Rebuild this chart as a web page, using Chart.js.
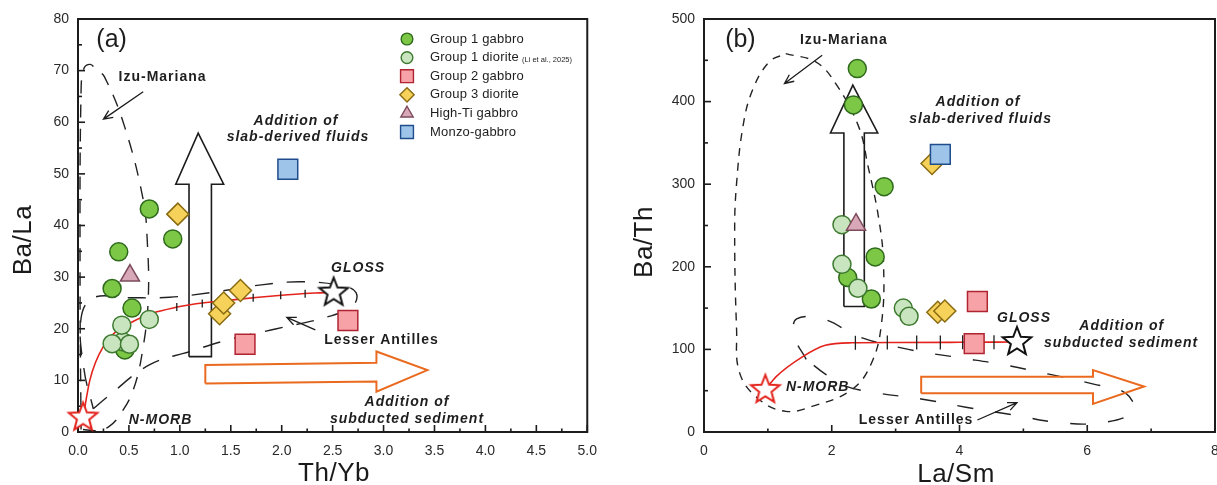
<!DOCTYPE html>
<html>
<head>
<meta charset="utf-8">
<script src="https://cdn.jsdelivr.net/npm/chart.js@4.4.1/dist/chart.umd.min.js"></script>
<style>
  html, body { margin: 0; padding: 0; background: #fff; overflow: hidden; }
  #boxA { position: absolute; left: 0; top: 0; }
  #boxB { position: absolute; left: 608px; top: 0; }
</style>
</head>
<body>
<div id="boxA"><canvas id="chartA" width="608" height="485"></canvas></div>
<div id="boxB"><canvas id="chartB" width="624" height="485"></canvas></div>
<script>
// ---- (a) Th/Yb vs Ba/La ----
const thYb_g1Gabbro = [0.70, 0.93, 0.40, 0.335, 0.53, 0.46];
const baLa_g1Gabbro = [43.2, 37.4, 34.9, 27.8, 24.0, 15.9];
const thYb_g1Diorite = [0.44, 0.70, 0.43, 0.335, 0.505];
const baLa_g1Diorite = [17.5, 21.8, 20.7, 17.1, 17.0];
const thYb_g2Gabbro = [1.64, 2.65];
const baLa_g2Gabbro = [17.0, 21.6];
const thYb_g3Diorite = [0.98, 1.39, 1.43, 1.595];
const baLa_g3Diorite = [42.2, 22.9, 25.0, 27.4];
const thYb_highTi = [0.51];
const baLa_highTi = [30.3];
const thYb_monzo = [2.06];
const baLa_monzo = [50.9];
const thYb_nmorb = [0.05];
const baLa_nmorb = [2.8];
const thYb_gloss = [2.51];
const baLa_gloss = [27.0];
// N-MORB - GLOSS mixing line and its increments
const thYb_mix = [0.05, 0.117, 0.247, 0.54, 1.0, 1.52, 2.0, 2.49];
const baLa_mix = [2.8, 10.1, 16.5, 21.4, 24.3, 25.6, 26.5, 27.1];
const thYb_mixTick = [0.97, 1.22, 1.72, 1.99, 2.23];
const baLa_mixTick = [24.2, 24.9, 26.0, 26.5, 26.8];
// fields and arrows
const thYb_izu = [0.03, 0.02, 0.03, 0.06, 0.12, 0.18, 0.26, 0.46, 0.64, 0.68, 0.69, 0.64, 0.54, 0.40, 0.30, 0.20, 0.03];
const baLa_izu = [0.5, 30, 66, 70.5, 71.2, 70.2, 68.8, 59, 45, 37, 26, 16.5, 8, 3, 1, 0.3, 0.5];
const thYb_antilles = [0.15, 0.30, 0.70, 1.10, 1.50, 1.95, 2.45, 2.70, 2.73, 2.60, 2.20, 1.80, 1.30, 0.90, 0.50, 0.15, 0.03, 0.06, 0.15];
const baLa_antilles = [4.5, 7.0, 13.0, 15.6, 18.0, 20.0, 22.3, 24.5, 27.0, 28.3, 29.1, 28.5, 27.0, 26.1, 26.0, 26.0, 22.0, 12.0, 4.5];
const thYb_fluidArrow = [1.09, 1.31, 1.31, 1.43, 1.18, 0.96, 1.09, 1.09];
const baLa_fluidArrow = [14.6, 14.6, 48.0, 48.0, 57.9, 48.0, 48.0, 14.6];
const thYb_sedArrow = [1.25, 2.93, 2.93, 3.43, 2.93, 2.93, 1.25, 1.25];
const baLa_sedArrow = [9.4, 9.8, 7.8, 12.0, 15.6, 13.4, 13.0, 9.4];

// ---- (b) La/Sm vs Ba/Th ----
const laSm_g1Gabbro = [2.40, 2.34, 2.82, 2.68, 2.25, 2.62];
const baTh_g1Gabbro = [440, 396, 297, 212, 187, 161];
const laSm_g1Diorite = [2.16, 2.16, 2.41, 3.12, 3.21];
const baTh_g1Diorite = [251, 203, 174, 150, 140];
const laSm_g2Gabbro = [4.28, 4.23];
const baTh_g2Gabbro = [158, 107];
const laSm_g3Diorite = [3.57, 3.66, 3.77];
const baTh_g3Diorite = [325, 145, 146.5];
const laSm_highTi = [2.38];
const baTh_highTi = [251];
const laSm_monzo = [3.70];
const baTh_monzo = [336];
const laSm_nmorb = [0.96];
const baTh_nmorb = [51];
const laSm_gloss = [4.90];
const baTh_gloss = [109];
const laSm_mix = [0.96, 1.13, 1.54, 1.90, 2.31, 3.0, 4.0, 4.9];
const baTh_mix = [51, 67, 91, 105, 108, 108.3, 108.6, 109];
const laSm_mixTick = [2.37, 2.87, 3.33, 3.70, 4.05, 4.54];
const baTh_mixTick = [108, 108.3, 108.4, 108.5, 108.6, 108.8];
const laSm_izu = [1.28, 1.75, 2.06, 2.42, 2.57, 2.73, 2.81, 2.78, 2.62, 2.31, 1.69, 1.28, 0.87, 0.56, 0.51, 0.48, 0.51, 0.61, 0.76, 1.02, 1.28];
const baTh_izu = [458, 448, 422, 370, 321, 261, 204, 132, 83, 51, 31, 25, 39, 71, 124, 245, 301, 370, 414, 448, 458];
const laSm_antilles = [1.60, 1.42, 1.45, 1.90, 2.40, 3.20, 4.00, 4.65, 5.40, 6.10, 6.60, 6.72, 6.20, 5.50, 4.90, 4.10, 3.40, 2.65, 2.20, 1.90, 1.60];
const baTh_antilles = [88, 115, 137, 136, 116, 100, 90, 82, 70, 58, 47, 25, 11, 12, 20, 30, 40, 48, 56, 70, 88];
const laSm_fluidArrow = [2.19, 2.51, 2.51, 2.72, 2.33, 1.98, 2.19, 2.19];
const baTh_fluidArrow = [152, 152, 362, 362, 420, 362, 362, 152];
const laSm_sedArrow = [3.40, 6.09, 6.09, 6.89, 6.09, 6.09, 3.40, 3.40];
const baTh_sedArrow = [47, 47, 34, 55, 75, 67, 67, 47];

const groupNames = ["Group 1 gabbro", "Group 1 diorite", "Group 2 gabbro", "Group 3 diorite", "High-Ti gabbro", "Monzo-gabbro"];

const FONT = "'Liberation Sans', Arial, sans-serif";
const STYLE = {
  g1Gabbro: { shape: "circle", r: 9, fill: "#7cc846", stroke: "#2f6a1c" },
  g1Diorite: { shape: "circle", r: 9, fill: "#c9e5bf", stroke: "#3e7a30" },
  g2Gabbro: { shape: "rect", r: 14, fill: "#f7a2a7", stroke: "#b02431" },
  g3Diorite: { shape: "rectRot", r: 11, fill: "#f6d25a", stroke: "#8a6b12" },
  highTi: { shape: "triangle", r: 11, fill: "#d9a8b8", stroke: "#7b4a5b" },
  monzo: { shape: "rect", r: 14, fill: "#9fc4e9", stroke: "#1f4d8c" },
};

function pts(xs, ys) {
  return xs.map((x, i) => ({ x, y: ys[i] }));
}

// five-pointed star used as a point style
function starImage(R, fill, stroke, lw) {
  const c = document.createElement("canvas");
  const s = Math.ceil(2 * R + 2 * lw + 2);
  c.width = s;
  c.height = s;
  const g = c.getContext("2d");
  g.translate(s / 2, s / 2);
  g.beginPath();
  for (let i = 0; i < 10; i++) {
    const r = i % 2 ? R * 0.43 : R;
    const a = -Math.PI / 2 + (i * Math.PI) / 5;
    g.lineTo(r * Math.cos(a), r * Math.sin(a));
  }
  g.closePath();
  g.fillStyle = fill;
  g.fill();
  g.lineWidth = lw;
  g.strokeStyle = stroke;
  g.stroke();
  return c;
}

function markers(label, xs, ys, st, order) {
  return {
    label, data: pts(xs, ys), showLine: false, order,
    pointStyle: st.shape, pointRadius: st.r,
    pointBackgroundColor: st.fill, pointBorderColor: st.stroke, pointBorderWidth: 1.5,
  };
}

function star(label, xs, ys, img) {
  return { label, data: pts(xs, ys), showLine: false, order: 0, clip: false, pointStyle: img, pointRadius: 16 };
}

function outline(label, xs, ys, color, dash, tension, order, width) {
  return {
    label, data: pts(xs, ys), showLine: true, fill: false, order,
    borderColor: color, borderWidth: width || 1.4, borderDash: dash, tension,
    pointRadius: 0,
  };
}

function mixLine(xs, ys) {
  return {
    label: "mixing", data: pts(xs, ys), showLine: true, fill: false, order: 5,
    borderColor: "#e3231c", borderWidth: 1.6, cubicInterpolationMode: "monotone", pointRadius: 0,
  };
}

function mixTicks(xs, ys, r) {
  return {
    label: "increments", data: pts(xs, ys), showLine: false, order: 4,
    pointStyle: "line", pointRotation: 90, pointRadius: r,
    pointBorderColor: "#1f1f1f", pointBorderWidth: 1.3,
  };
}

// draws a legend marker like the chart's own points
function legendMarker(ctx, st, x, y, scale) {
  const r = st.r * scale;
  ctx.beginPath();
  if (st.shape === "circle") {
    ctx.arc(x, y, r, 0, Math.PI * 2);
  } else if (st.shape === "rect") {
    const h = r * Math.SQRT1_2;
    ctx.rect(x - h, y - h, 2 * h, 2 * h);
  } else if (st.shape === "rectRot") {
    ctx.moveTo(x, y - r); ctx.lineTo(x + r, y); ctx.lineTo(x, y + r); ctx.lineTo(x - r, y); ctx.closePath();
  } else if (st.shape === "triangle") {
    ctx.moveTo(x, y - r);
    ctx.lineTo(x + r * Math.sin(Math.PI / 3), y + r * 0.5);
    ctx.lineTo(x - r * Math.sin(Math.PI / 3), y + r * 0.5);
    ctx.closePath();
  }
  ctx.fillStyle = st.fill;
  ctx.fill();
  ctx.lineWidth = 1.4;
  ctx.strokeStyle = st.stroke;
  ctx.stroke();
}

const decor = {
  id: "decor",
  beforeDatasetsDraw(chart, args, o) {
    const ctx = chart.ctx, a = chart.chartArea;
    const xs = chart.scales.x, ys = chart.scales.y;
    ctx.save();
    ctx.strokeStyle = "#1c1c1c";
    ctx.lineWidth = 1.6;
    // inward tick marks
    xs.ticks.forEach((t) => {
      const x = xs.getPixelForValue(t.value), len = t.label !== "" ? 7 : 3.5;
      ctx.beginPath(); ctx.moveTo(x, a.bottom); ctx.lineTo(x, a.bottom - len); ctx.stroke();
    });
    ys.ticks.forEach((t) => {
      const y = ys.getPixelForValue(t.value), len = t.label !== "" ? 7 : 4;
      ctx.beginPath(); ctx.moveTo(a.left, y); ctx.lineTo(a.left + len, y); ctx.stroke();
    });
    // plot frame
    ctx.lineWidth = 2;
    ctx.strokeRect(a.left, a.top, a.right - a.left, a.bottom - a.top);
    ctx.restore();
  },
  afterDatasetsDraw(chart, args, o) {
    const ctx = chart.ctx;
    const px = (v) => chart.scales.x.getPixelForValue(v);
    const py = (v) => chart.scales.y.getPixelForValue(v);
    ctx.save();
    ctx.strokeStyle = "#1c1c1c";
    ctx.lineWidth = 1.3;
    (o.pointers || []).forEach((p) => {
      const x1 = px(p.from[0]), y1 = py(p.from[1]), x2 = px(p.to[0]), y2 = py(p.to[1]);
      const ang = Math.atan2(y2 - y1, x2 - x1), h = 10;
      ctx.beginPath();
      ctx.moveTo(x1, y1); ctx.lineTo(x2, y2);
      ctx.moveTo(x2 - h * Math.cos(ang - 0.42), y2 - h * Math.sin(ang - 0.42));
      ctx.lineTo(x2, y2);
      ctx.lineTo(x2 - h * Math.cos(ang + 0.42), y2 - h * Math.sin(ang + 0.42));
      ctx.stroke();
    });
    ctx.fillStyle = "#1e1e1e";
    ctx.textAlign = "center";
    ctx.textBaseline = "middle";
    (o.notes || []).forEach((n) => {
      ctx.font = n.font;
      ctx.letterSpacing = n.ls || "0px";
      ctx.fillText(n.text, px(n.x), py(n.y));
    });
    ctx.restore();
  },
  afterDraw(chart, args, o) {
    const ctx = chart.ctx;
    ctx.save();
    ctx.fillStyle = "#1a1a1a";
    ctx.textAlign = "center";
    ctx.textBaseline = "middle";
    ctx.font = "26px " + FONT;
    ctx.letterSpacing = "0.5px";
    ctx.fillText(o.xTitle.text, o.xTitle.x, o.xTitle.y);
    ctx.translate(o.yTitle.x, o.yTitle.y);
    ctx.rotate(-Math.PI / 2);
    ctx.fillText(o.yTitle.text, 0, 0);
    ctx.restore();

    if (o.legend) {
      const L = o.legend;
      ctx.save();
      ctx.textAlign = "left";
      ctx.textBaseline = "middle";
      L.keys.forEach((k, i) => {
        const y = L.top + i * L.gap;
        legendMarker(ctx, STYLE[k], L.x, y, 0.65);
        ctx.fillStyle = "#1e1e1e";
        ctx.font = "13px " + FONT;
        ctx.letterSpacing = "0.2px";
        ctx.fillText(groupNames[i], L.x + 23, y);
        if (i === 1) {
          const w = ctx.measureText(groupNames[i]).width;
          ctx.font = "7.5px " + FONT;
          ctx.letterSpacing = "0px";
          ctx.fillText("(Li et al., 2025)", L.x + 23 + w + 3, y + 2);
        }
      });
      ctx.restore();
    }
  },
};

function baseOptions(c) {
  const tickFont = { family: FONT, size: 14 };
  return {
    responsive: false,
    animation: false,
    events: [],
    layout: { padding: c.pad },
    plugins: { legend: { display: false }, tooltip: { enabled: false }, decor: c.decor },
    scales: {
      x: {
        type: "linear", min: c.xMin, max: c.xMax,
        border: { display: false }, grid: { display: false, drawTicks: false },
        ticks: { stepSize: c.xStep, autoSkip: false, maxRotation: 0, padding: 11, font: tickFont, color: "#2a2a2a", callback: c.xLabel },
        afterFit: (s) => { s.height = c.xH; },
      },
      y: {
        type: "linear", min: c.yMin, max: c.yMax,
        border: { display: false }, grid: { display: false, drawTicks: false },
        ticks: { stepSize: c.yStep, autoSkip: false, padding: 9, font: tickFont, color: "#2a2a2a", callback: c.yLabel },
        afterFit: (s) => { s.width = c.yW; },
      },
    },
  };
}

const noteBold = "bold 14px " + FONT;
const noteItalic = "italic bold 14px " + FONT;

// panel (a)
new Chart(document.getElementById("chartA"), {
  type: "scatter",
  data: {
    datasets: [
      markers(groupNames[5], thYb_monzo, baLa_monzo, STYLE.monzo, 1),
      markers(groupNames[4], thYb_highTi, baLa_highTi, STYLE.highTi, 1),
      markers(groupNames[3], thYb_g3Diorite, baLa_g3Diorite, STYLE.g3Diorite, 1),
      markers(groupNames[2], thYb_g2Gabbro, baLa_g2Gabbro, STYLE.g2Gabbro, 1),
      markers(groupNames[1], thYb_g1Diorite, baLa_g1Diorite, STYLE.g1Diorite, 2),
      markers(groupNames[0], thYb_g1Gabbro, baLa_g1Gabbro, STYLE.g1Gabbro, 3),
      star("N-MORB", thYb_nmorb, baLa_nmorb, starImage(15, "#ffffff", "#e3231c", 2)),
      star("GLOSS", thYb_gloss, baLa_gloss, starImage(15, "#ffffff", "#111111", 2)),
      mixTicks(thYb_mixTick, baLa_mixTick, 4),
      mixLine(thYb_mix, baLa_mix),
      outline("fluids", thYb_fluidArrow, baLa_fluidArrow, "#1c1c1c", [], 0, 6, 1.6),
      outline("sediment", thYb_sedArrow, baLa_sedArrow, "#ea6a1f", [], 0, 6, 2),
      outline("Izu-Mariana", thYb_izu, baLa_izu, "#222222", [13, 11], 0.4, 7),
      outline("Lesser Antilles", thYb_antilles, baLa_antilles, "#222222", [18, 14], 0.4, 7),
    ],
  },
  options: baseOptions({
    pad: { left: 0, top: 19, right: 18, bottom: 0 },
    xMin: 0, xMax: 5, xStep: 0.25, yMin: 0, yMax: 80, yStep: 5, xH: 53, yW: 78,
    xLabel: (v) => (Math.round(v * 4) % 2 === 0 ? v.toFixed(1) : ""),
    yLabel: (v) => (v % 10 === 0 ? String(v) : ""),
    decor: {
      xTitle: { text: "Th/Yb", x: 334, y: 474 },
      yTitle: { text: "Ba/La", x: 24, y: 240 },
      notes: [
        { text: "(a)", x: 0.33, y: 75.9, font: "25px " + FONT },
        { text: "Izu-Mariana", x: 0.83, y: 68.8, font: noteBold, ls: "1px" },
        { text: "Addition of", x: 2.14, y: 60.2, font: noteItalic, ls: "1px" },
        { text: "slab-derived fluids", x: 2.16, y: 57.1, font: noteItalic, ls: "1px" },
        { text: "GLOSS", x: 2.75, y: 31.8, font: noteItalic, ls: "1px" },
        { text: "Lesser Antilles", x: 2.98, y: 17.8, font: noteBold, ls: "1px" },
        { text: "N-MORB", x: 0.81, y: 2.3, font: noteItalic, ls: "1px" },
        { text: "Addition of", x: 3.23, y: 5.8, font: noteItalic, ls: "1px" },
        { text: "subducted sediment", x: 3.23, y: 2.5, font: noteItalic, ls: "1px" },
      ],
      pointers: [
        { from: [0.64, 65.9], to: [0.25, 60.6] },
        { from: [2.33, 19.8], to: [2.05, 22.2] },
      ],
      legend: { x: 407, top: 39, gap: 18.6, keys: ["g1Gabbro", "g1Diorite", "g2Gabbro", "g3Diorite", "highTi", "monzo"] },
    },
  }),
  plugins: [decor],
});

// panel (b)
new Chart(document.getElementById("chartB"), {
  type: "scatter",
  data: {
    datasets: [
      markers(groupNames[5], laSm_monzo, baTh_monzo, STYLE.monzo, 1),
      markers(groupNames[4], laSm_highTi, baTh_highTi, STYLE.highTi, 1),
      markers(groupNames[3], laSm_g3Diorite, baTh_g3Diorite, STYLE.g3Diorite, 2),
      markers(groupNames[2], laSm_g2Gabbro, baTh_g2Gabbro, STYLE.g2Gabbro, 1),
      markers(groupNames[1], laSm_g1Diorite, baTh_g1Diorite, STYLE.g1Diorite, 2),
      markers(groupNames[0], laSm_g1Gabbro, baTh_g1Gabbro, STYLE.g1Gabbro, 3),
      star("N-MORB", laSm_nmorb, baTh_nmorb, starImage(15, "#ffffff", "#e3231c", 2)),
      star("GLOSS", laSm_gloss, baTh_gloss, starImage(15, "#ffffff", "#111111", 2)),
      mixTicks(laSm_mixTick, baTh_mixTick, 7),
      mixLine(laSm_mix, baTh_mix),
      outline("fluids", laSm_fluidArrow, baTh_fluidArrow, "#1c1c1c", [], 0, 6, 1.6),
      outline("sediment", laSm_sedArrow, baTh_sedArrow, "#ea6a1f", [], 0, 6, 2),
      outline("Izu-Mariana", laSm_izu, baTh_izu, "#222222", [8, 7], 0.4, 7),
      outline("Lesser Antilles", laSm_antilles, baTh_antilles, "#222222", [16, 22], 0.4, 7),
    ],
  },
  options: baseOptions({
    pad: { left: 0, top: 19, right: 13, bottom: 0 },
    xMin: 0, xMax: 8, xStep: 1, yMin: 0, yMax: 500, yStep: 50, xH: 53, yW: 96,
    xLabel: (v) => (v % 2 === 0 ? String(v) : ""),
    yLabel: (v) => (v % 100 === 0 ? String(v) : ""),
    decor: {
      xTitle: { text: "La/Sm", x: 348, y: 475 },
      yTitle: { text: "Ba/Th", x: 37, y: 242 },
      notes: [
        { text: "(b)", x: 0.57, y: 474.6, font: "25px " + FONT },
        { text: "Izu-Mariana", x: 2.19, y: 474.6, font: noteBold, ls: "1px" },
        { text: "Addition of", x: 4.29, y: 399.5, font: noteItalic, ls: "1px" },
        { text: "slab-derived fluids", x: 4.33, y: 379, font: noteItalic, ls: "1px" },
        { text: "GLOSS", x: 5.01, y: 138, font: noteItalic, ls: "1px" },
        { text: "Addition of", x: 6.54, y: 128, font: noteItalic, ls: "1px" },
        { text: "subducted sediment", x: 6.53, y: 107.7, font: noteItalic, ls: "1px" },
        { text: "N-MORB", x: 1.78, y: 54.5, font: noteItalic, ls: "1px" },
        { text: "Lesser Antilles", x: 3.32, y: 14.5, font: noteBold, ls: "1px" },
      ],
      pointers: [
        { from: [1.85, 456], to: [1.26, 422] },
        { from: [4.28, 14.5], to: [4.9, 35.5] },
      ],
    },
  }),
  plugins: [decor],
});
</script>
</body>
</html>
